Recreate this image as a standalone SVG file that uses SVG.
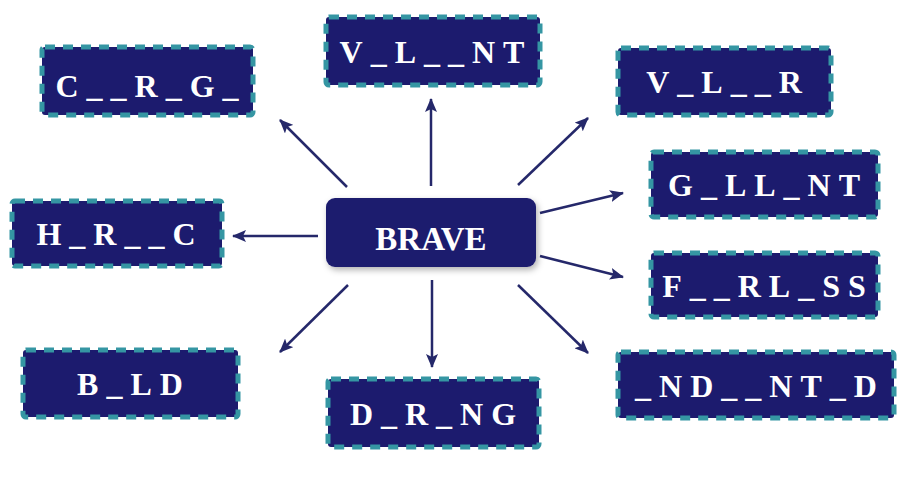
<svg xmlns="http://www.w3.org/2000/svg" width="908" height="477" viewBox="0 0 908 477">
<defs>
<style>
.box{fill:#1c1b6e;stroke:#3596a3;stroke-width:5;stroke-dasharray:10 8}
.lbl{fill:#ffffff;font-family:"Liberation Serif","DejaVu Serif",serif;font-weight:bold;font-size:32px;letter-spacing:8px;text-anchor:middle}
.main{fill:#1c1b6e}
.mainlbl{fill:#ffffff;font-family:"Liberation Serif","DejaVu Serif",serif;font-weight:bold;font-size:33px;text-anchor:middle}
.conn line{stroke:#25286a;stroke-width:2.5;marker-end:url(#ah)}
</style>
<marker id="ah" viewBox="0 0 14 12" refX="13" refY="6" markerWidth="14" markerHeight="12" markerUnits="userSpaceOnUse" orient="auto">
<path d="M0,0 L14,6 L0,12 L3,6 Z" fill="#25286a"/>
</marker>
<filter id="sh" x="-10%" y="-20%" width="125%" height="150%">
<feDropShadow dx="2" dy="3" stdDeviation="3" flood-color="#000" flood-opacity="0.3"/>
</filter>
</defs>
<rect width="908" height="477" fill="#ffffff"/>
<g class="conn">
<line x1="431" y1="186" x2="431" y2="99"/>
<line x1="518" y1="185" x2="588" y2="118"/>
<line x1="347" y1="187" x2="280" y2="120"/>
<line x1="318" y1="236" x2="233" y2="236"/>
<line x1="348" y1="285" x2="280" y2="352"/>
<line x1="432" y1="280" x2="432" y2="367"/>
<line x1="518" y1="285" x2="588" y2="353"/>
<line x1="540" y1="213" x2="623" y2="193"/>
<line x1="540" y1="256" x2="623" y2="277"/>
</g>
<g id="n-brave">
<rect class="main" x="326" y="198" width="210" height="69" rx="9" filter="url(#sh)"/>
<text class="mainlbl" x="431" y="250">BRAVE</text>
</g>
<g id="n-corage">
<rect class="box" x="42" y="47" width="211" height="68" rx="3"/>
<text class="lbl" x="151" y="97">C__R_G_</text>
</g>
<g id="n-valiant">
<rect class="box" x="326" y="17" width="214" height="68" rx="3"/>
<text class="lbl" x="436" y="63">V_L__NT</text>
</g>
<g id="n-valor">
<rect class="box" x="618" y="48" width="213" height="67" rx="3"/>
<text class="lbl" x="728" y="93">V_L__R</text>
</g>
<g id="n-heroic">
<rect class="box" x="12" y="201" width="210" height="65" rx="3"/>
<text class="lbl" x="120" y="245">H_R__C</text>
</g>
<g id="n-gallant">
<rect class="box" x="651" y="152" width="227" height="65" rx="3"/>
<text class="lbl" x="768" y="196">G_LL_NT</text>
</g>
<g id="n-fearless">
<rect class="box" x="651" y="253" width="227" height="64" rx="3"/>
<text class="lbl" x="768" y="297">F__RL_SS</text>
</g>
<g id="n-bold">
<rect class="box" x="23" y="350" width="215" height="67" rx="3"/>
<text class="lbl" x="134" y="395">B_LD</text>
</g>
<g id="n-daring">
<rect class="box" x="328" y="379" width="211" height="68" rx="3"/>
<text class="lbl" x="437" y="425">D_R_NG</text>
</g>
<g id="n-undaunted">
<rect class="box" x="618" y="352" width="276" height="66" rx="3"/>
<text class="lbl" x="760" y="397">_ND__NT_D</text>
</g>
</svg>
